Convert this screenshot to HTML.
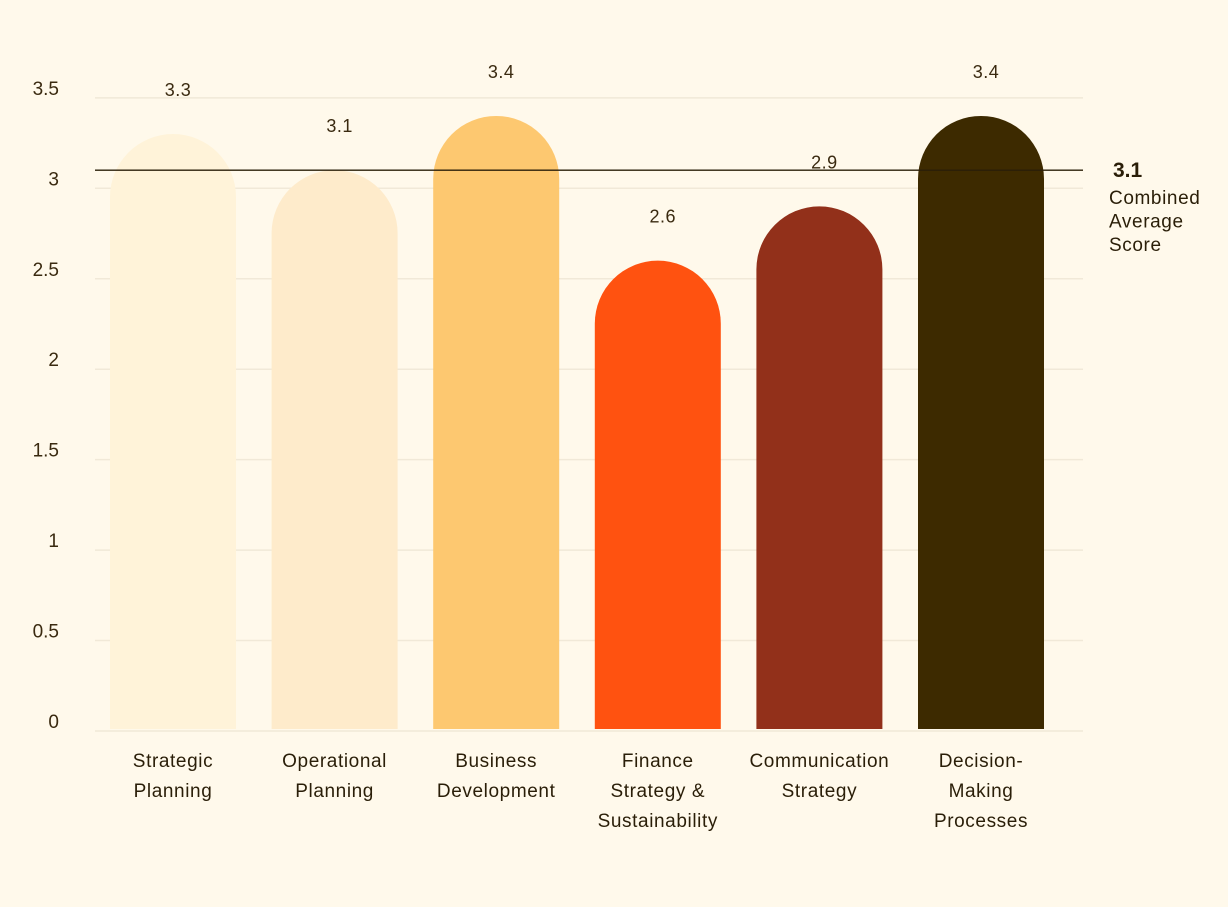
<!DOCTYPE html>
<html><head><meta charset="utf-8"><style>
html,body{margin:0;padding:0;background:#FFF9EB;}
svg{display:block;font-family:"Liberation Sans",sans-serif;}
</style></head><body>
<svg id="chart" width="1228" height="907">
<rect width="1228" height="907" fill="#FFF9EB"/>
<g id="grid"></g><g id="ylabels"></g><g id="bars"></g><g id="values"></g><g id="xlabels"></g><g id="avg"></g>
</svg>
<script>
const categories=[["Strategic","Planning"],["Operational","Planning"],["Business","Development"],["Finance","Strategy &","Sustainability"],["Communication","Strategy"],["Decision-","Making","Processes"]];
const values=[3.3,3.1,3.4,2.6,2.9,3.4];
const valueLabels=["3.3","3.1","3.4","2.6","2.9","3.4"];
const colors=["#FFF3D9","#FEEBCB","#FDC870","#FF5210","#92301A","#3D2A00"];
const yTicks=[0,0.5,1,1.5,2,2.5,3,3.5];
const yTickLabels=["0","0.5","1","1.5","2","2.5","3","3.5"];
const average=3.1;
const averageLabel="3.1";
const NS="http://www.w3.org/2000/svg";
const y0=731,pxPerUnit=180.9,x0=110,step=161.6,bw=126;
const y=v=>y0-v*pxPerUnit;
const x=i=>x0+i*step;
function mk(tag,attrs,parent,text){const e=document.createElementNS(NS,tag);for(const k in attrs)e.setAttribute(k,attrs[k]);if(text!==undefined)e.textContent=text;document.getElementById(parent).appendChild(e);return e;}
yTicks.forEach((t,i)=>{
 const l=mk('line',{x1:95,x2:1083,y1:y(t),y2:y(t),stroke:'#F1E9D8','stroke-width':1.5},'grid');
 
 
 const tx=mk('text',{x:59,y:y(t)-3,'text-anchor':'end','font-size':19,fill:'#3a2a10'},'ylabels',yTickLabels[i]);
 
 
});
values.forEach((v,i)=>{
 const r=bw/2,left=x(i),top=y(v),bot=y0-2;
 const d=`M${left},${bot} L${left},${top+r} A${r},${r} 0 0 1 ${left+bw},${top+r} L${left+bw},${bot} Z`;
 const p=mk('path',{d:d,fill:colors[i]},'bars');
 
 
 const vt=mk('text',{x:left+bw/2+5,y:top-38,'text-anchor':'middle','font-size':18,'letter-spacing':0.5,fill:'#3a2a10'},'values',valueLabels[i]);
 
 
 categories[i].forEach((line,j)=>{
  const ct=mk('text',{x:left+bw/2,y:767+j*30,'text-anchor':'middle','font-size':19,'letter-spacing':0.6,fill:'#2a1e08'},'xlabels',line);
  
  
 });
});
const al=mk('line',{x1:95,x2:1083,y1:y(average),y2:y(average),stroke:'#2a1e08','stroke-width':1.3},'avg');


const a1=mk('text',{x:1113,y:y(average)+7,'font-size':21,'font-weight':'bold',fill:'#2a1e08'},'avg',averageLabel);


["Combined","Average","Score"].forEach((s,j)=>{
 const t=mk('text',{x:1109,y:y(average)+34+j*23.5,'font-size':19,'letter-spacing':0.6,fill:'#2a1e08'},'avg',s);
 
 
});
</script>
</body></html>
